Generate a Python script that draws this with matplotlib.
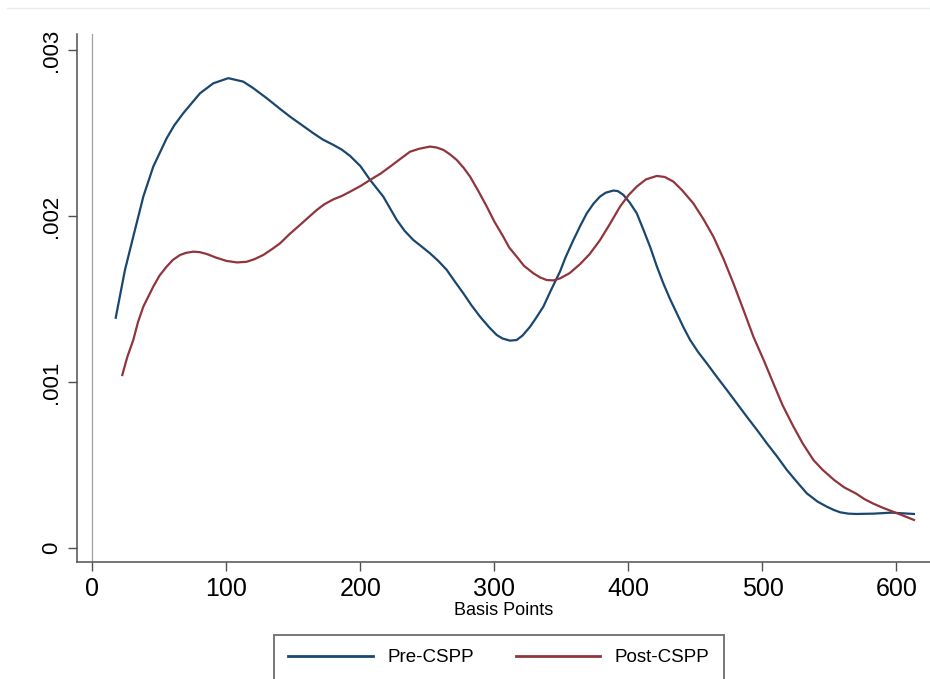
import matplotlib
matplotlib.use("Agg")
import matplotlib.pyplot as plt
from matplotlib.lines import Line2D

# Basis points (x) and kernel density (y, in units of 0.001)
pre_x = [17.4, 24.3, 30.5, 38.0, 45.4, 55.4, 61.0, 67.8, 80.3, 90.2, 101.4, 112.6, 120.0,
         130.1, 140.0, 147.5, 155.0, 164.9, 172.0, 179.8, 186.0, 192.2, 200.0, 207.2,
         217.1, 227.1, 233.0, 239.5, 245.0, 251.9, 258.0, 264.4, 270.0, 276.8, 283.0,
         289.3, 296.0, 301.7, 306.0, 311.6, 316.6, 321.0, 326.6, 331.0, 336.5, 342.0,
         348.9, 353.0, 358.9, 364.0, 368.9, 374.0, 378.8, 383.0, 388.7, 392.0, 396.2,
         401.0, 406.2, 411.0, 416.1, 421.0, 426.0, 431.0, 436.1, 441.0, 446.0, 452.0,
         458.5, 466.0, 473.4, 481.0, 488.3, 496.0, 503.3, 511.0, 518.2, 526.0, 533.1,
         541.0, 548.0, 553.0, 558.0, 564.0, 570.0, 583.0, 596.0, 613.0]
pre_y = [1.387, 1.675, 1.876, 2.117, 2.297, 2.468, 2.545, 2.619, 2.739, 2.799, 2.830, 2.809, 2.770,
         2.709, 2.645, 2.598, 2.555, 2.498, 2.460, 2.428, 2.400, 2.362, 2.300, 2.217,
         2.116, 1.976, 1.910, 1.855, 1.820, 1.775, 1.730, 1.675, 1.610, 1.534, 1.460,
         1.393, 1.330, 1.283, 1.262, 1.249, 1.253, 1.280, 1.333, 1.385, 1.454, 1.550,
         1.665, 1.750, 1.855, 1.940, 2.016, 2.075, 2.117, 2.140, 2.153, 2.150, 2.127,
         2.080, 2.016, 1.920, 1.815, 1.700, 1.594, 1.500, 1.413, 1.330, 1.253, 1.180,
         1.112, 1.030, 0.952, 0.870, 0.791, 0.710, 0.630, 0.550, 0.470, 0.395, 0.329,
         0.280, 0.249, 0.230, 0.215, 0.207, 0.205, 0.207, 0.213, 0.205]

post_x = [22.3, 26.0, 30.5, 34.0, 38.0, 45.4, 50.0, 55.4, 60.0, 65.4, 70.0, 75.3, 80.0,
          85.3, 92.0, 100.2, 108.0, 115.1, 121.0, 127.5, 134.0, 140.0, 147.0, 154.9,
          161.0, 167.4, 173.0, 179.8, 186.0, 192.2, 200.0, 207.2, 215.0, 222.1, 230.0,
          237.0, 244.0, 251.9, 257.0, 261.9, 267.0, 271.9, 277.0, 281.8, 288.0, 294.3,
          300.0, 306.6, 311.0, 316.6, 322.0, 329.0, 334.0, 339.0, 344.0, 348.9, 356.0,
          363.9, 371.0, 378.8, 386.0, 393.7, 400.0, 406.2, 413.0, 421.1, 427.0, 433.5,
          440.0, 448.4, 456.0, 463.4, 471.0, 478.3, 486.0, 493.2, 501.0, 508.1, 515.0,
          523.1, 530.0, 538.0, 545.0, 553.4, 561.0, 569.6, 576.0, 582.5, 589.0, 596.0,
          605.0, 613.0]
post_y = [1.042, 1.150, 1.253, 1.360, 1.454, 1.574, 1.640, 1.695, 1.735, 1.765, 1.778, 1.785, 1.782,
          1.771, 1.750, 1.729, 1.720, 1.724, 1.740, 1.765, 1.800, 1.835, 1.890, 1.946,
          1.990, 2.036, 2.070, 2.100, 2.120, 2.146, 2.180, 2.217, 2.255, 2.297, 2.345,
          2.387, 2.405, 2.418, 2.412, 2.398, 2.370, 2.337, 2.290, 2.237, 2.150, 2.056,
          1.965, 1.875, 1.810, 1.755, 1.700, 1.655, 1.630, 1.614, 1.612, 1.624, 1.655,
          1.710, 1.770, 1.855, 1.950, 2.056, 2.125, 2.177, 2.220, 2.241, 2.235, 2.207,
          2.155, 2.076, 1.980, 1.875, 1.740, 1.594, 1.430, 1.273, 1.130, 0.992, 0.860,
          0.731, 0.630, 0.530, 0.470, 0.410, 0.365, 0.329, 0.295, 0.268, 0.245, 0.223,
          0.195, 0.169]
pre_y = [v / 1000 for v in pre_y]
post_y = [v / 1000 for v in post_y]

x_ticks = [0, 100, 200, 300, 400, 500, 600]
y_ticks = [0, 0.001, 0.002, 0.003]
y_tick_labels = ["0", ".001", ".002", ".003"]
series_names = ["Pre-CSPP", "Post-CSPP"]
colors = ["#1a476f", "#90353b"]

plt.rcParams['font.family'] = ['Liberation Sans', 'DejaVu Sans']

fig = plt.figure(figsize=(9.30, 6.79), dpi=100)
ax = fig.add_axes([77 / 930, 1 - 562 / 679, 1 - 77 / 930, (562 - 34) / 679])

ax.axvline(0, color="#a0a0a0", lw=0.9, zorder=1)
ax.plot(pre_x, pre_y, color=colors[0], lw=1.6, label=series_names[0], zorder=3,
        solid_joinstyle="round")
ax.plot(post_x, post_y, color=colors[1], lw=1.6, label=series_names[1], zorder=3,
        solid_joinstyle="round")

ax.set_xlim(-11.5, 625)
ax.set_ylim(-0.0000843, 0.003096)

spine_col = "#505050"
for s in ["top", "right"]:
    ax.spines[s].set_visible(False)
for s in ["left", "bottom"]:
    ax.spines[s].set_color(spine_col)
    ax.spines[s].set_linewidth(1.1)

ax.set_xticks(x_ticks)
ax.set_xticklabels([str(t) for t in x_ticks],
                   fontfamily=['Liberation Sans Narrow', 'Liberation Sans'], fontsize=18)
ax.set_yticks(y_ticks)
ax.set_yticklabels(y_tick_labels, rotation=90, va="center", fontsize=16)
ax.tick_params(axis="both", direction="out", length=6.5, width=1.0, color=spine_col)
ax.tick_params(axis="x", pad=4)
ax.tick_params(axis="y", pad=4.5)

ax.set_xlabel("Basis Points", fontsize=13, labelpad=1)

leg = fig.legend(loc="upper center", bbox_to_anchor=(499 / 930, 1 - 635 / 679),
                 ncol=2, fontsize=13.5, frameon=True, fancybox=False, shadow=False,
                 handlelength=4.5, handletextpad=0.8, columnspacing=2.2,
                 borderpad=0.75, borderaxespad=0)
leg.get_frame().set_edgecolor("#555555")
leg.get_frame().set_linewidth(1.4)
for h in leg.get_lines():
    h.set_linewidth(2.0)

fig.add_artist(Line2D([7 / 930, 1], [1 - 8.3 / 679, 1 - 8.3 / 679],
                      transform=fig.transFigure, color="#e6eef1", lw=1.0))

fig.savefig("out.png", dpi=100)
